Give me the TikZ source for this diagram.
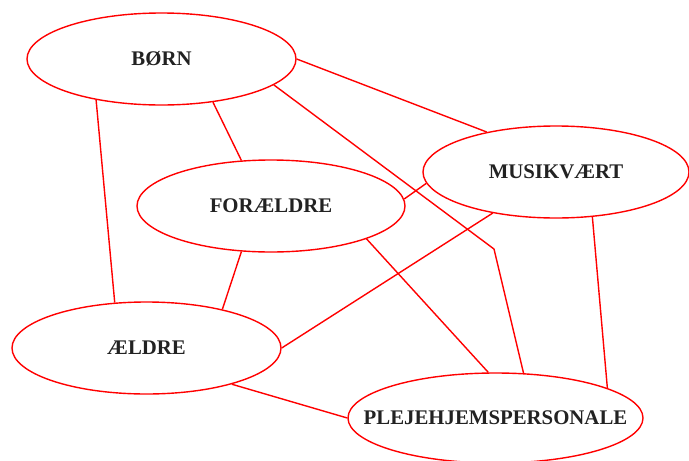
\documentclass[tikz,border=0pt]{standalone}
\usepackage{fontspec}
\setmainfont{Liberation Serif}
\usetikzlibrary{shapes.geometric}
\definecolor{txt}{HTML}{222222}
\begin{document}
\begin{tikzpicture}[x=1pt,y=-1pt,
  ent/.style={ellipse, draw=red, line width=1.4pt, inner sep=0pt,
    label={[font=\fontsize{20.8}{25}\selectfont\bfseries, text=txt, inner sep=0pt]center:#1}},
  link/.style={draw=red, line width=1.4pt}]
\useasboundingbox (0,0) rectangle (689,461);
\node[ent=BØRN, minimum width=269pt, minimum height=92pt] (born) at (161.5,59) {};
\node[ent=FORÆLDRE, minimum width=268pt, minimum height=92pt] (foraeldre) at (271,206) {};
\node[ent=MUSIKVÆRT, minimum width=266pt, minimum height=92pt] (musik) at (556,172) {};
\node[ent=ÆLDRE, minimum width=269pt, minimum height=92pt] (aeldre) at (146.5,348) {};
\node[ent=PLEJEHJEMSPERSONALE, minimum width=295pt, minimum height=90pt] (pleje) at (495.5,418) {};
\coordinate (bend) at (494,249);
\draw[link] (born.0) -- (musik.150.9);
\draw[link] (born.-40.4) -- (foraeldre.123.7);
\draw[link] (born.212.2) -- (aeldre.125.8);
\draw[link] (born.-13.6) -- (bend) -- (pleje.58);
\draw[link] (foraeldre.3) -- (musik.185.8);
\draw[link] (foraeldre.237.2) -- (aeldre.27.3);
\draw[link] (foraeldre.-19.2) -- (pleje.99.7);
\draw[link] (musik.213.5) -- (aeldre.0);
\draw[link] (musik.309.4) -- (pleje.15.7);
\draw[link] (aeldre.337.4) -- (pleje.180);
\end{tikzpicture}
\end{document}
